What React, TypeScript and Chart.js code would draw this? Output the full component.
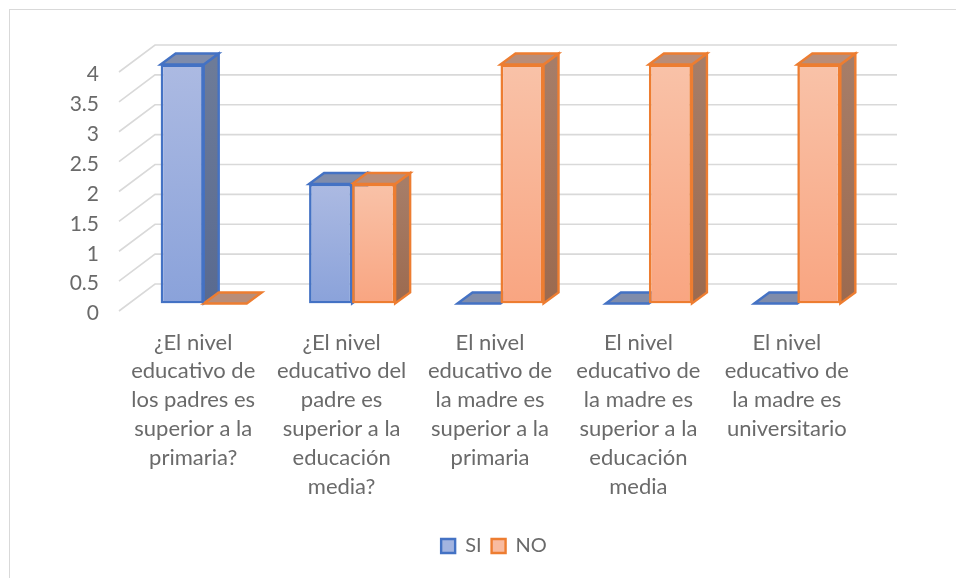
import React, { useEffect, useRef } from "react";
import { Chart, registerables } from "chart.js";

Chart.register(...registerables);

const categories = [
  ["¿El nivel", "educativo de", "los padres es", "superior a la", "primaria?"],
  ["¿El nivel", "educativo del", "padre es", "superior a la", "educación", "media?"],
  ["El nivel", "educativo de", "la madre es", "superior a la", "primaria"],
  ["El nivel", "educativo de", "la madre es", "superior a la", "educación", "media"],
  ["El nivel", "educativo de", "la madre es", "universitario"],
];
const siValues = [4, 2, 0, 0, 0];
const noValues = [0, 2, 4, 4, 4];

const FONT = "Lato, Carlito, Calibri, sans-serif";
const TEXT = "#6a6a6a";
const GRID = "#d9d9d9";

const WALL_DX = 36;
const WALL_DY = 27;
const BAR_OFFSET_X = 10.5;
const BAR_OFFSET_Y = 7.5;
const DEPTH_X = 15;
const DEPTH_Y = 11;

const palette = [
  { stroke: "#4472C4", frontTop: "#ACBAE2", frontBottom: "#8AA2DA", sideTop: "#6D7B98", sideBottom: "#596A90", top: "#7F8CAB", legend: "#A3B4E0" },
  { stroke: "#ED7D31", frontTop: "#F9C2A8", frontBottom: "#F9A581", sideTop: "#A67D68", sideBottom: "#9C6A4F", top: "#B98D78", legend: "#F8BBA0" },
];

function frontFill(i: number) {
  return (c: any) => {
    const chart = c.chart;
    const p = palette[i];
    if (!chart.scales.y || !chart.chartArea || c.raw === undefined) return p.frontTop;
    const y0 = chart.scales.y.getPixelForValue(c.raw);
    const y1 = chart.scales.y.getPixelForValue(0);
    if (y1 - y0 < 1) return p.frontTop;
    const g = chart.ctx.createLinearGradient(0, y0, 0, y1);
    g.addColorStop(0, p.frontTop);
    g.addColorStop(1, p.frontBottom);
    return g;
  };
}

const wallPlugin = {
  id: "wall3d",
  afterLayout(chart: any) {
    // the reference legend sits a little right of the plot centre
    chart.legend.left += 8;
  },
  beforeDatasetsDraw(chart: any) {
    const { ctx, chartArea, scales } = chart;
    ctx.save();
    ctx.strokeStyle = GRID;
    ctx.lineWidth = 1.6;
    scales.y.ticks.forEach((t: any) => {
      const y = scales.y.getPixelForValue(t.value);
      ctx.beginPath();
      ctx.moveTo(chartArea.left, y);
      ctx.lineTo(chartArea.left + WALL_DX, y - WALL_DY);
      ctx.lineTo(chartArea.right + WALL_DX, y - WALL_DY);
      ctx.stroke();
    });
    // side and top faces of every bar, behind all the front faces
    chart.data.datasets.forEach((_: any, i: number) => {
      const p = palette[i];
      chart.getDatasetMeta(i).data.forEach((el: any) => {
        const { x, y, base, width } = el.getProps(["x", "y", "base", "width"], true);
        const l = x - width / 2 + BAR_OFFSET_X;
        const r = x + width / 2 + BAR_OFFSET_X;
        const t = y - BAR_OFFSET_Y;
        const b = base - BAR_OFFSET_Y;
        ctx.lineWidth = 2.4;
        ctx.lineJoin = "miter";
        ctx.strokeStyle = p.stroke;
        if (b - t > 1) {
          const g = ctx.createLinearGradient(0, t, 0, b);
          g.addColorStop(0, p.sideTop);
          g.addColorStop(1, p.sideBottom);
          ctx.fillStyle = g;
          ctx.beginPath();
          ctx.moveTo(r, t);
          ctx.lineTo(r + DEPTH_X, t - DEPTH_Y);
          ctx.lineTo(r + DEPTH_X, b - DEPTH_Y);
          ctx.lineTo(r, b);
          ctx.closePath();
          ctx.fill();
          ctx.stroke();
        }
        ctx.fillStyle = p.top;
        ctx.beginPath();
        ctx.moveTo(l, t);
        ctx.lineTo(l + DEPTH_X, t - DEPTH_Y);
        ctx.lineTo(r + DEPTH_X, t - DEPTH_Y);
        ctx.lineTo(r, t);
        ctx.closePath();
        ctx.fill();
        ctx.stroke();
      });
    });
    ctx.restore();
  },
  beforeDatasetDraw(chart: any) {
    chart.ctx.save();
    chart.ctx.translate(BAR_OFFSET_X, -BAR_OFFSET_Y);
  },
  afterDatasetDraw(chart: any) {
    chart.ctx.restore();
  },
};

export default function App() {
  const ref = useRef<HTMLCanvasElement>(null);
  useEffect(() => {
    const chart = new Chart(ref.current as HTMLCanvasElement, {
      type: "bar",
      data: {
        labels: categories as any,
        datasets: [
          { label: "SI", data: siValues, backgroundColor: frontFill(0) as any, borderColor: palette[0].stroke, borderWidth: 2.6, borderSkipped: false },
          { label: "NO", data: noValues, backgroundColor: frontFill(1) as any, borderColor: palette[1].stroke, borderWidth: 2.6, borderSkipped: false },
        ],
      },
      plugins: [wallPlugin],
      options: {
        animation: false,
        responsive: false,
        events: [],
        categoryPercentage: 0.58,
        barPercentage: 1,
        layout: { padding: { top: 72, right: 95, bottom: 12, left: 0 } },
        plugins: {
          tooltip: { enabled: false },
          title: { display: false },
          legend: {
            position: "bottom",
            fullSize: false,
            labels: {
              color: TEXT,
              font: { family: FONT, size: 20 },
              boxWidth: 14,
              boxHeight: 14,
              padding: 10,
              generateLabels: () =>
                ["SI", "NO"].map((text, i) => ({
                  text,
                  fillStyle: palette[i].legend,
                  strokeStyle: palette[i].stroke,
                  lineWidth: 2.4,
                  fontColor: TEXT,
                  datasetIndex: i,
                  hidden: false,
                })),
            },
          },
        },
        scales: {
          x: {
            grid: { display: false, drawTicks: false },
            border: { display: false },
            afterFit: (s: any) => { s.height = 215; },
            ticks: {
              color: TEXT,
              font: { family: FONT, size: 22, lineHeight: 1.31 },
              maxRotation: 0,
              minRotation: 0,
              autoSkip: false,
              padding: 17,
            },
          },
          y: {
            min: 0,
            max: 4,
            grid: { display: false, drawTicks: false },
            border: { display: false },
            afterFit: (s: any) => { s.width = 119; },
            ticks: {
              stepSize: 0.5,
              color: TEXT,
              font: { family: FONT, size: 21 },
              padding: 20,
              labelOffset: 2.5,
              callback: (v: any) => String(v),
            },
          },
        },
      } as any,
    });
    return () => chart.destroy();
  }, []);
  return (
    <div style={{ position: "absolute", left: 0, top: 0, width: 956, height: 578, overflow: "hidden", background: "#fff" }}>
      <div style={{ position: "absolute", left: 9, top: 9, width: 947, height: 569, borderLeft: "1px solid #d9d9d9", borderTop: "1px solid #d9d9d9" }} />
      <canvas ref={ref} width={956} height={578} style={{ position: "absolute", left: 0, top: 0, display: "block" }} />
    </div>
  );
}
